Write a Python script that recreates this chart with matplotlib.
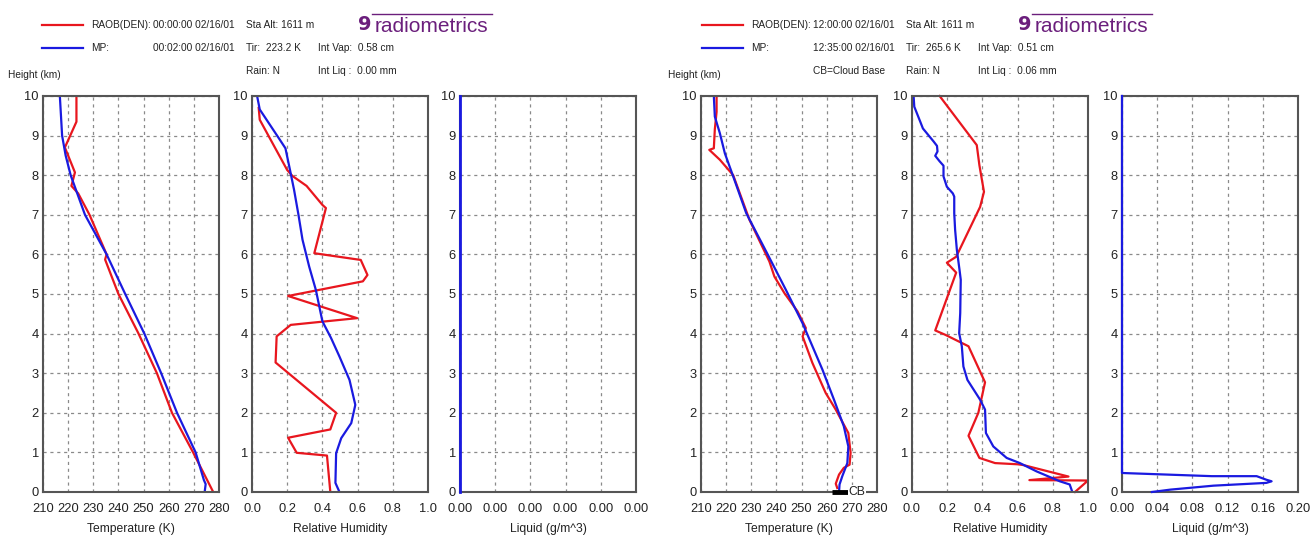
import numpy as np
import matplotlib
matplotlib.use("Agg")
import matplotlib.pyplot as plt
from matplotlib.ticker import FormatStrFormatter

plt.rcParams['font.family'] = ['Liberation Sans', 'DejaVu Sans']

# ---- data (height in km) ----
# 00 UTC case
t0_raob_h = [10.0, 9.35, 8.7, 8.07, 7.73, 7.54, 7.0, 6.0, 5.87, 5.0, 4.0, 3.0, 2.0, 1.0, 0.0]
t0_raob_t = [223.3, 223.3, 218.7, 222.7, 221.3, 224.0, 228.5, 235.3, 234.7, 240.0, 248.0, 255.3, 261.3, 269.7, 277.7]
t0_mp_h = [10.0, 9.0, 8.5, 8.0, 7.0, 6.0, 5.0, 4.0, 3.0, 2.0, 1.0, 0.3, 0.2, 0.0]
t0_mp_t = [216.7, 217.6, 219.0, 221.0, 226.7, 235.3, 242.7, 250.3, 257.0, 263.3, 270.7, 274.0, 274.7, 274.3]

rh0_raob_h = [9.7, 9.4, 8.13, 7.98, 7.73, 7.25, 7.17, 6.03, 5.86, 5.48, 5.32, 4.95, 4.39, 4.22, 3.93,
              3.27, 2.0, 1.58, 1.37, 0.99, 0.92, 0.0]
rh0_raob_v = [0.038, 0.044, 0.20, 0.23, 0.31, 0.40, 0.42, 0.354, 0.618, 0.656, 0.63, 0.205, 0.597, 0.22, 0.14,
              0.134, 0.478, 0.445, 0.205, 0.254, 0.426, 0.445]
rh0_mp_h = [10.0, 9.66, 8.93, 8.68, 8.13, 7.63, 7.0, 6.37, 5.69, 5.1, 4.31, 3.89, 3.42, 2.83, 2.2, 1.74,
            1.36, 0.98, 0.23, 0.06, 0.0]
rh0_mp_v = [0.029, 0.044, 0.153, 0.19, 0.216, 0.239, 0.264, 0.287, 0.325, 0.363, 0.40, 0.449, 0.497, 0.554,
            0.587, 0.564, 0.507, 0.478, 0.474, 0.491, 0.497]

liq0_h = [10.0, 0.0]
liq0_v = [0.0, 0.0]

# 12 UTC case
t12_raob_h = [10.0, 9.6, 9.16, 8.68, 8.64, 8.39, 8.0, 6.87, 5.82, 5.44, 5.02, 4.56, 4.14, 3.93, 3.26, 2.5,
              2.08, 1.49, 0.99, 0.69, 0.61, 0.44, 0.21, 0.1]
t12_raob_t = [216.2, 216.2, 215.5, 215.1, 213.3, 217.5, 222.8, 229.3, 237.2, 239.2, 243.2, 248.4, 251.7,
              250.4, 254.3, 259.6, 263.6, 268.6, 269.5, 269.1, 266.8, 264.9, 263.6, 264.2]
t12_mp_h = [10.0, 9.48, 9.06, 8.55, 7.97, 7.04, 5.99, 5.1, 4.26, 3.09, 2.33, 1.66, 1.15, 0.73, 0.4, 0.19, 0.0]
t12_mp_t = [215.1, 215.5, 217.5, 219.5, 222.8, 228.0, 236.6, 243.8, 250.4, 258.3, 262.9, 266.8, 268.6,
            268.2, 266.2, 265.1, 264.9]
cloud_base = [262.1, 268.9]

rh12_raob_h = [10.0, 8.76, 8.25, 7.58, 7.2, 5.94, 5.79, 5.54, 4.08, 3.97, 3.68, 2.77, 2.0, 1.42, 0.86, 0.73,
               0.70, 0.68, 0.39, 0.30, 0.29, 0.0]
rh12_raob_v = [0.157, 0.368, 0.383, 0.409, 0.387, 0.251, 0.198, 0.251, 0.132, 0.189, 0.321, 0.415, 0.377,
               0.321, 0.383, 0.472, 0.60, 0.633, 0.889, 0.667, 1.0, 0.926]
rh12_mp_h = [10.0, 9.73, 9.35, 9.18, 8.85, 8.74, 8.6, 8.49, 8.35, 8.24, 7.97, 7.71, 7.54, 7.46, 7.04, 6.62,
             6.11, 5.61, 5.36, 4.52, 4.01, 3.68, 3.17, 2.83, 2.33, 2.08, 1.49, 1.15, 0.86, 0.73, 0.52, 0.27,
             0.19, 0.0]
rh12_mp_v = [0.009, 0.013, 0.047, 0.062, 0.123, 0.142, 0.145, 0.132, 0.157, 0.179, 0.179, 0.198, 0.232,
             0.24, 0.24, 0.245, 0.255, 0.27, 0.277, 0.274, 0.268, 0.283, 0.292, 0.315, 0.387, 0.415, 0.42,
             0.462, 0.538, 0.613, 0.708, 0.84, 0.896, 0.911]

liq12_h = [10.0, 0.48, 0.44, 0.40, 0.40, 0.31, 0.27, 0.23, 0.16, 0.06, 0.0]
liq12_v = [0.0, 0.0, 0.051, 0.102, 0.153, 0.164, 0.170, 0.164, 0.104, 0.055, 0.034]

RED = '#e8161e'
BLUE = '#1a1ae0'
FRAME = '#555555'
W, H = 1312, 536

fig = plt.figure(figsize=(W / 100, H / 100), dpi=100)


def panel(left_px, xlim, xticks, fmt, xlabel):
    ax = fig.add_axes([left_px / W, 44 / H, 176 / W, 396 / H])
    ax.set_xlim(*xlim)
    ax.set_ylim(0, 10)
    ax.set_xticks(xticks)
    ax.set_yticks(range(11))
    ax.xaxis.set_major_formatter(FormatStrFormatter(fmt))
    ax.grid(True, color='#8a8a8a', linestyle=(0, (2.5, 3)), linewidth=0.9)
    ax.set_axisbelow(True)
    for s in ax.spines.values():
        s.set_color(FRAME)
        s.set_linewidth(1.5)
    ax.tick_params(length=0, labelsize=9.3, pad=3, colors='#222222')
    ax.tick_params(axis='x', pad=8)
    ax.set_xlabel(xlabel, fontsize=8.7, labelpad=6, color='#222222')
    return ax


def header(x0, time1, time2, tir, vap, liq, cb):
    fs = 7.3
    def t(x, y, s):
        fig.text((x0 + x) / W, 1 - y / H, s, fontsize=fs, va='center', ha='left', color='#222222')
    fig.lines.append(plt.Line2D([(x0 + 42) / W, (x0 + 83) / W], [1 - 25 / H] * 2, color=RED,
                                lw=1.6, transform=fig.transFigure))
    fig.lines.append(plt.Line2D([(x0 + 42) / W, (x0 + 83) / W], [1 - 48 / H] * 2, color=BLUE,
                                lw=1.6, transform=fig.transFigure))
    t(91, 25, 'RAOB(DEN):')
    t(91, 48, 'MP:')
    t(153, 25, time1)
    t(153, 48, time2)
    t(246, 25, 'Sta Alt: 1611 m')
    t(246, 48, 'Tir:  ' + tir)
    t(246, 71, 'Rain: N')
    t(318, 48, 'Int Vap:  ' + vap)
    t(318, 71, 'Int Liq :  ' + liq)
    if cb:
        t(153, 71, 'CB=Cloud Base')
    t(8, 75, 'Height (km)')
    # logo
    fig.text((x0 + 358) / W, 1 - 25 / H, '9', fontsize=14, fontweight='bold', color='#6b1f7c',
             va='center', ha='left', family='DejaVu Sans')
    fig.text((x0 + 375) / W, 1 - 26 / H, 'radiometrics', fontsize=15, color='#6b1f7c',
             va='center', ha='left')
    fig.lines.append(plt.Line2D([(x0 + 372) / W, (x0 + 492) / W], [1 - 14 / H] * 2, color='#6b1f7c',
                                lw=1.0, transform=fig.transFigure))


temp_ticks = np.arange(210, 281, 10)
rh_ticks = np.linspace(0, 1, 6)

# left case
ax = panel(43, (210, 280), temp_ticks, '%d', 'Temperature (K)')
ax.plot(t0_raob_t, t0_raob_h, color=RED, lw=1.6)
ax.plot(t0_mp_t, t0_mp_h, color=BLUE, lw=1.6)

ax = panel(252, (0, 1), rh_ticks, '%.1f', 'Relative Humidity')
ax.plot(rh0_raob_v, rh0_raob_h, color=RED, lw=1.6)
ax.plot(rh0_mp_v, rh0_mp_h, color=BLUE, lw=1.6)

ax = panel(460, (0, 0.0025), np.linspace(0, 0.0025, 6), '%.2f', 'Liquid (g/m^3)')
ax.plot(liq0_v, liq0_h, color=BLUE, lw=2.0, clip_on=False, zorder=3)

header(0, '00:00:00 02/16/01', '00:02:00 02/16/01', '223.2 K', '0.58 cm', '0.00 mm', False)

# right case
ax = panel(701, (210, 280), temp_ticks, '%d', 'Temperature (K)')
ax.plot(t12_raob_t, t12_raob_h, color=RED, lw=1.6)
ax.plot(t12_mp_t, t12_mp_h, color=BLUE, lw=1.6)
ax.plot(cloud_base, [0, 0], color='black', lw=3.5, clip_on=False, solid_capstyle='butt', zorder=4)
ax.text(272.0, 0, 'CB', fontsize=8.7, ha='center', va='center', color='#222222', zorder=4,
        bbox=dict(facecolor='white', edgecolor='none', pad=0.5), clip_on=False)

ax = panel(912, (0, 1), rh_ticks, '%.1f', 'Relative Humidity')
ax.plot(rh12_raob_v, rh12_raob_h, color=RED, lw=1.6, clip_on=False)
ax.plot(rh12_mp_v, rh12_mp_h, color=BLUE, lw=1.6)

ax = panel(1122, (0, 0.2), np.linspace(0, 0.2, 6), '%.2f', 'Liquid (g/m^3)')
ax.plot(liq12_v, liq12_h, color=BLUE, lw=1.6, clip_on=False, zorder=3)

header(660, '12:00:00 02/16/01', '12:35:00 02/16/01', '265.6 K', '0.51 cm', '0.06 mm', True)

fig.savefig('out.png', dpi=100, facecolor='white')
